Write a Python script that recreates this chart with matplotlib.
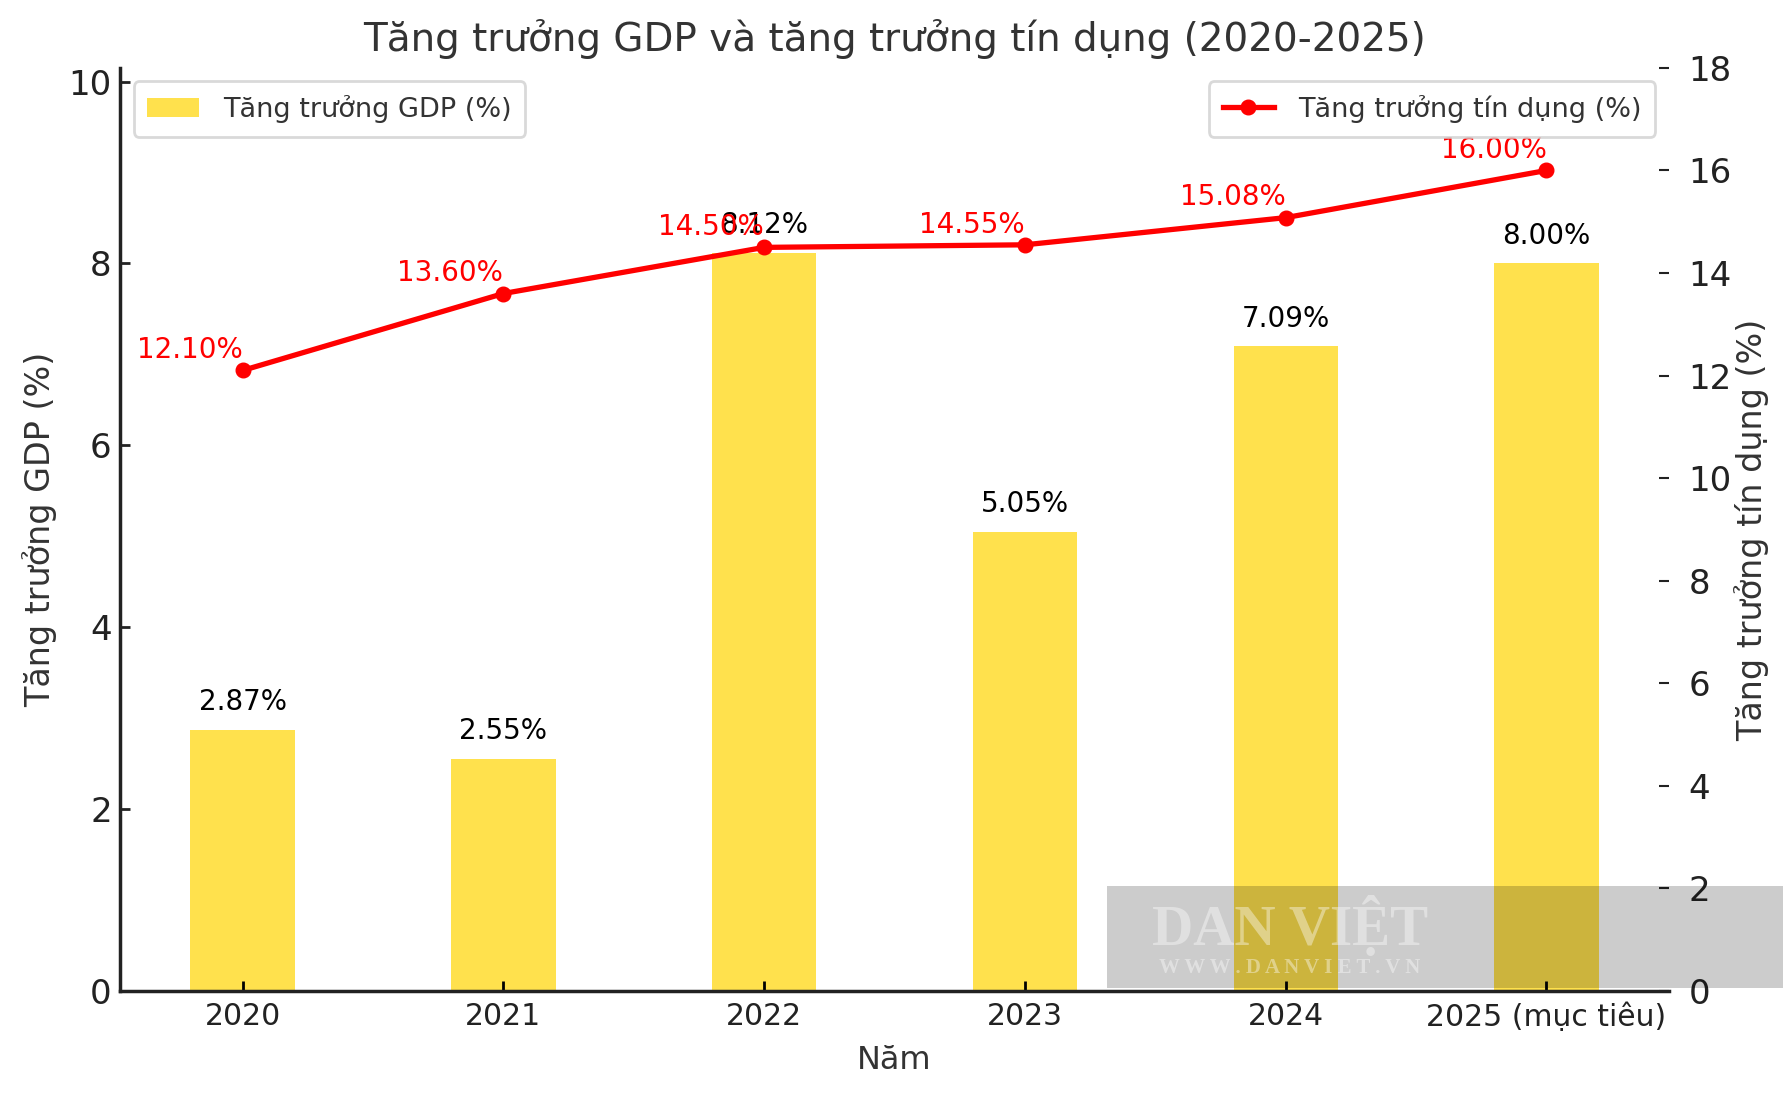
import matplotlib
matplotlib.use("Agg")
import matplotlib.pyplot as plt
from matplotlib.patches import Rectangle

years = ["2020", "2021", "2022", "2023", "2024", "2025 (mục tiêu)"]
gdp_growth = [2.87, 2.55, 8.12, 5.05, 7.09, 8.00]
credit_growth = [12.10, 13.60, 14.50, 14.55, 15.08, 16.00]

plt.rcParams['font.family'] = ['DejaVu Sans']

fig = plt.figure(figsize=(17.86, 10.95), dpi=100)
ax = fig.add_axes([0.0672, 0.095, 0.8673, 0.843])
x = list(range(len(years)))

bars = ax.bar(x, gdp_growth, width=0.4, color='#FFE14D', label='Tăng trưởng GDP (%)')
ax.set_ylim(0, max(gdp_growth) * 1.25)
ax.set_xticks(x)
ax.set_xticklabels(years, fontsize=21.5, color='#222222')
ax.tick_params(axis='y', labelsize=24.5, colors='#222222', direction='in', length=7, width=2, pad=6)
ax.tick_params(axis='x', direction='in', length=7, width=2, pad=8)
ax.set_xlabel('Năm', fontsize=23, color='#333333', labelpad=10)
ax.set_ylabel('Tăng trưởng GDP (%)', fontsize=24, color='#333333', labelpad=8)
for s in ['top', 'right']:
    ax.spines[s].set_visible(False)
for s in ['left', 'bottom']:
    ax.spines[s].set_linewidth(2.5)
    ax.spines[s].set_color('#222222')

for xi, v in zip(x, gdp_growth):
    ax.text(xi, v + 0.15, f"{v:.2f}%", ha='center', va='bottom', fontsize=20, color='black')

ax2 = ax.twinx()
ax2.plot(x, credit_growth, color='red', linewidth=3.8, marker='o', markersize=10.5,
         label='Tăng trưởng tín dụng (%)')
ax2.set_ylim(0, 18)
ax2.set_yticks(range(0, 19, 2))
ax2.tick_params(axis='y', labelsize=24.5, colors='#222222', direction='in', length=7, width=1.5, pad=14)
ax2.set_ylabel('Tăng trưởng tín dụng (%)', fontsize=24, color='#333333', labelpad=2)
for s in ax2.spines.values():
    s.set_visible(False)
for xi, v in zip(x, credit_growth):
    ax2.text(xi, v + 0.12, f"{v:.2f}%", ha='right', va='bottom', fontsize=20, color='red')

leg1 = ax.legend(loc='upper left', fontsize=19.5, frameon=True, borderpad=0.5,
                 handlelength=1.9, handletextpad=0.9)
leg1.get_frame().set_edgecolor('#d0d0d0')
leg1.get_frame().set_linewidth(2)
for t in leg1.get_texts():
    t.set_color('#333333')
leg2 = ax2.legend(loc='upper right', fontsize=19.5, frameon=True, borderpad=0.5,
                  handlelength=1.9, handletextpad=0.9)
leg2.get_frame().set_edgecolor('#d0d0d0')
leg2.get_frame().set_linewidth(2)
for t in leg2.get_texts():
    t.set_color('#333333')

ax.set_title('Tăng trưởng GDP và tăng trưởng tín dụng (2020-2025)', fontsize=28,
             color='#333333', pad=12)

# watermark
fig.patches.append(Rectangle((1107 / 1786, 1 - 988 / 1095), (1783 - 1107) / 1786, 102 / 1095,
                             transform=fig.transFigure, facecolor='black', alpha=0.2,
                             edgecolor='none', zorder=10))
fig.text(1290 / 1786, 1 - 926 / 1095, 'DAN VIỆT', fontsize=41, family='Liberation Serif',
         fontweight='bold', color='white', alpha=0.4, ha='center', va='center', zorder=11)
fig.text(1290 / 1786, 1 - 968 / 1095, 'W W W . D A N V I E T . V N', fontsize=15,
         family='Liberation Serif', fontweight='bold', color='white', alpha=0.4,
         ha='center', va='center', zorder=11)

fig.savefig('out.png', dpi=100)
